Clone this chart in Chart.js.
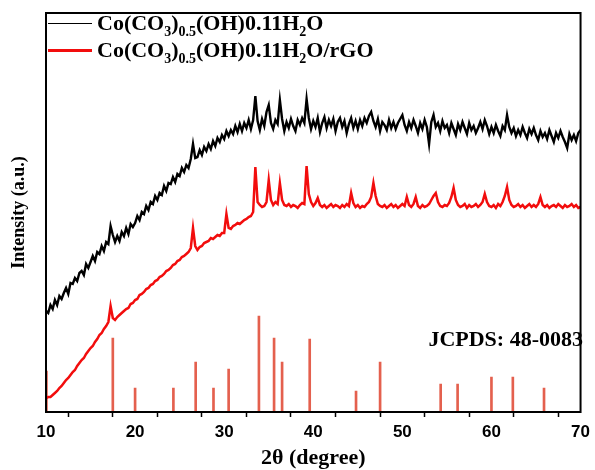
<!DOCTYPE html>
<html>
<head>
<meta charset="utf-8">
<script src="https://cdn.jsdelivr.net/npm/chart.js@4.4.0/dist/chart.umd.min.js"></script>
<style>
  html, body { margin: 0; padding: 0; background: #fff; }
  #wrap { position: relative; width: 595px; height: 470px; }
  canvas { position: absolute; left: 0; top: 0; }
  .legend { position: absolute; left: 48px; top: 0; font: bold 22px "Liberation Serif", serif; color: #000; }
  .row { position: absolute; left: 0; white-space: nowrap; display: flex; align-items: center; height: 26px; }
  .swatch { display: inline-block; width: 44px; margin-right: 5px; }
  .row sub { font-size: 14px; vertical-align: -6px; line-height: 0; }
  #jcpds { position: absolute; right: 12px; top: 326px; font: bold 22px "Liberation Serif", serif; color: #000; }
</style>
</head>
<body>
<div id="wrap">
  <canvas id="xrd" width="595" height="470"></canvas>
  <div class="legend">
    <div class="row" style="top:10px"><span class="swatch" style="border-top:1.5px solid #000"></span><span>Co(CO<sub>3</sub>)<sub>0.5</sub>(OH)0.11H<sub>2</sub>O</span></div>
    <div class="row" style="top:37px"><span class="swatch" style="border-top:3px solid #f20d0d"></span><span>Co(CO<sub>3</sub>)<sub>0.5</sub>(OH)0.11H<sub>2</sub>O/rGO</span></div>
  </div>
  <div id="jcpds">JCPDS: 48-0083</div>
</div>
<script>
// scans sampled every 0.25 degree from 10 to 70
const xStart = 10;
const xStep = 0.25;

// Co(CO3)0.5(OH)0.11H2O
const bareCounts = [
  101, 99, 107, 103,  112, 107, 116, 113,  119, 124, 118, 129,  128, 134, 131, 139,
  141, 137, 148, 144,  150, 156, 151, 160,  158, 166, 161, 170,  168, 186, 177, 170,
  176, 171, 180, 176,  184, 178, 188, 185,  189, 196, 192, 200,  198, 206, 202, 210,
  208, 216, 212, 219,  217, 226, 221, 229,  228, 235, 230, 238,  236, 244, 240, 247,
  244, 253, 268, 254,  255, 262, 257, 265,  261, 268, 263, 271,  266, 274, 270, 277,
  273, 281, 276, 282,  278, 286, 280, 288,  281, 289, 284, 292,  283, 292, 316, 291,
  282, 293, 286, 300,  307, 289, 283, 292,  288, 312, 293, 281,  290, 284, 293, 286,
  281, 292, 287, 294,  289, 313, 294, 283,  291, 285, 294, 280,  289, 295, 284, 292,
  286, 293, 281, 290,  294, 285, 291, 279,  288, 294, 284, 291,  283, 292, 286, 294,
  289, 296, 300, 291,  285, 293, 281, 290,  287, 282, 292, 284,  290, 283, 289, 293,
  297, 287, 281, 290,  284, 292, 286, 279,  289, 283, 292, 285,  268, 290, 297, 285,
  289, 281, 291, 284,  287, 279, 289, 283,  277, 288, 282, 290,  284, 278, 289, 282,
  286, 279, 284, 290,  283, 292, 286, 278,  285, 279, 287, 281,  276, 286, 282, 297,
  285, 279, 284, 276,  282, 277, 285, 279,  274, 283, 278, 284,  277, 272, 281, 275,
  279, 273, 282, 276,  270, 279, 274, 281,  275, 270, 264, 278,  272, 277, 271, 279,
  282
];

// Co(CO3)0.5(OH)0.11H2O/rGO
const rgoCounts = [
  14, 15, 15, 17,  19, 21, 24, 26,  29, 32, 34, 37,  40, 42, 46, 49,
  52, 54, 58, 61,  64, 66, 70, 73,  77, 79, 83, 86,  90, 106, 94, 92,
  95, 97, 99, 101,  103, 104, 108, 109,  112, 113, 117, 118,  120, 123, 124, 127,
  128, 131, 132, 135,  136, 138, 141, 142,  144, 147, 148, 151,  152, 155, 156, 158,
  160, 164, 184, 166,  162, 165, 166, 169,  170, 171, 174, 173,  175, 177, 176, 179,
  179, 198, 184, 183,  186, 187, 189, 188,  190, 192, 193, 195,  196, 200, 245, 210,
  207, 205, 206, 210,  232, 212, 207, 210,  208, 229, 212, 207,  206, 208, 205, 207,
  206, 204, 207, 209,  208, 246, 218, 210,  206, 209, 214, 207,  205, 207, 204, 206,
  208, 205, 207, 206,  204, 207, 205, 208,  206, 219, 209, 205,  207, 204, 206, 205,
  208, 210, 215, 229,  216, 208, 206, 205,  207, 204, 206, 208,  205, 207, 204, 206,
  208, 206, 215, 207,  205, 208, 215, 206,  204, 207, 205, 206,  208, 212, 216, 219,
  210, 206, 205, 207,  206, 209, 215, 224,  212, 207, 205, 206,  208, 204, 207, 205,
  206, 208, 205, 207,  210, 218, 210, 206,  205, 207, 204, 208,  206, 210, 216, 225,
  212, 207, 205, 206,  208, 205, 207, 204,  206, 208, 205, 207,  205, 208, 215, 207,
  205, 207, 204, 206,  207, 205, 208, 206,  204, 207, 205, 206,  208, 205, 207, 204,
  205
];

// JCPDS 48-0083 reference lines
const refAngles = [10.05, 17.5, 20.0, 24.3, 26.8, 28.8, 30.5, 33.9, 35.6, 36.5, 39.6, 44.8, 47.5, 54.3, 56.2, 60.0, 62.4, 65.9];
const refHeights = [41, 74, 24, 24, 50, 24, 43, 96, 74, 50, 73, 21, 50, 28, 28, 35, 35, 24];

const toPoints = arr => arr.map((v, i) => ({ x: xStart + i * xStep, y: v }));

const serifBold = { family: "'Liberation Serif', serif", weight: 'bold', size: 22 };

const frame = {
  id: 'frame',
  afterDraw(chart) {
    const { ctx, chartArea: a } = chart;
    ctx.save();
    ctx.strokeStyle = '#000';
    ctx.lineWidth = 2;
    ctx.strokeRect(a.left, a.top, a.right - a.left, a.bottom - a.top);
    ctx.restore();
  }
};

new Chart(document.getElementById('xrd'), {
  type: 'line',
  data: {
    datasets: [
      {
        type: 'bar',
        data: refAngles.map((x, i) => ({ x, y: refHeights[i] })),
        backgroundColor: '#e4604e',
        barThickness: 2,
        order: 3
      },
      {
        data: toPoints(rgoCounts),
        borderColor: '#f20d0d',
        borderWidth: 2.5,
        pointRadius: 0,
        tension: 0,
        order: 2
      },
      {
        data: toPoints(bareCounts),
        borderColor: '#000',
        borderWidth: 2.4,
        pointRadius: 0,
        tension: 0,
        order: 1
      }
    ]
  },
  options: {
    responsive: false,
    animation: false,
    devicePixelRatio: 1,
    layout: { padding: { top: 13, right: 13, left: 0, bottom: 0 } },
    plugins: { legend: { display: false }, tooltip: { enabled: false } },
    scales: {
      x: {
        type: 'linear',
        min: 10,
        max: 70,
        offset: false,
        ticks: {
          stepSize: 5,
          autoSkip: false,
          maxRotation: 0,
          padding: 5,
          color: '#000',
          font: { family: "'Liberation Sans', sans-serif", weight: 'bold', size: 17 },
          callback: v => (v % 10 === 0 ? v : '')
        },
        grid: { drawOnChartArea: false, drawTicks: true, tickLength: 5, tickWidth: 1.5, color: '#000' },
        border: { display: true, color: '#000', width: 2 },
        title: { display: true, text: '2θ (degree)', color: '#000', font: serifBold, padding: { top: 0, bottom: -2 } },
        afterFit: s => { s.height = 58; }
      },
      y: {
        min: 0,
        max: 399,
        ticks: { display: false },
        grid: { drawOnChartArea: false, drawTicks: false },
        border: { display: true, color: '#000', width: 2 },
        title: {
          display: true,
          text: 'Intensity (a.u.)',
          color: '#000',
          font: { family: "'Liberation Serif', serif", weight: 'bold', size: 18 },
          padding: { top: 9, bottom: 0 }
        },
        afterFit: s => { s.width = 46; }
      }
    }
  },
  plugins: [frame]
});
</script>
</body>
</html>
